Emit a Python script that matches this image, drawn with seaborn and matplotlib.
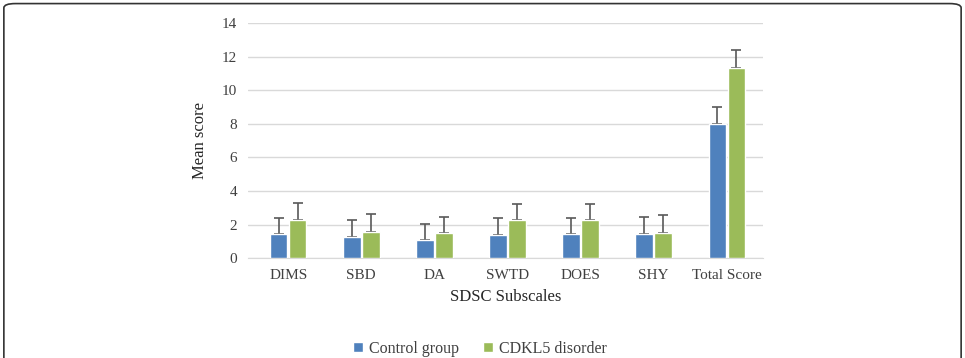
import numpy as np
import pandas as pd
import matplotlib
matplotlib.use("Agg")
import matplotlib.pyplot as plt
import seaborn as sns
from matplotlib.patches import FancyBboxPatch

# values
subscales = ["DIMS", "SBD", "DA", "SWTD", "DOES", "SHY", "Total Score"]
groups = ["Control group", "CDKL5 disorder"]
control_mean = [1.43, 1.27, 1.07, 1.35, 1.43, 1.43, 8.0]
control_sd = [0.95, 0.97, 0.99, 1.03, 0.95, 1.03, 0.97]
cdkl5_mean = [2.26, 1.57, 1.51, 2.26, 2.26, 1.51, 11.32]
cdkl5_sd = [1.03, 1.05, 0.95, 0.96, 0.96, 1.03, 1.04]

colors = ["#4F81BD", "#9BBB59"]

df = pd.DataFrame({
    "subscale": subscales * 2,
    "group": [groups[0]] * len(subscales) + [groups[1]] * len(subscales),
    "mean": control_mean + cdkl5_mean,
})

sns.set_style("white")
plt.rcParams["font.family"] = ["Liberation Serif", "DejaVu Serif"]

fig = plt.figure(figsize=(9.65, 3.58), dpi=100)
ax = fig.add_axes([0.257, 0.279, 0.534, 0.657])

sns.barplot(data=df, x="subscale", y="mean", hue="group", palette=colors,
            saturation=1, width=0.52, gap=0.08, errorbar=None, ax=ax,
            zorder=3)

# upper-only error bars
sds = [control_sd, cdkl5_sd]
means = [control_mean, cdkl5_mean]
for cont, sd, mn in zip(ax.containers, sds, means):
    xs = [p.get_x() + p.get_width() / 2 for p in cont.patches]
    ax.errorbar(xs, mn, yerr=[np.zeros(len(sd)), sd], fmt="none",
                ecolor="#595959", elinewidth=1.2, capsize=3.5, capthick=1.2,
                zorder=2.5)

ax.set_ylim(0, 14)
ax.set_yticks(range(0, 15, 2))
ax.set_xlim(-0.55, 6.5)
ax.yaxis.grid(True, color="#d9d9d9", linewidth=1)
ax.set_axisbelow(True)
for s in ["top", "right", "left"]:
    ax.spines[s].set_visible(False)
ax.spines["bottom"].set_color("#d9d9d9")
ax.tick_params(axis="both", length=0, labelsize=11, colors="#404040", pad=8)
ax.set_ylabel("Mean score", fontsize=12, color="#262626", labelpad=10)
ax.set_xlabel("SDSC Subscales", fontsize=12, color="#262626", labelpad=5)

ax.legend(loc="upper center", bbox_to_anchor=(0.45, -0.29), ncol=2,
          frameon=False, fontsize=11.5, handlelength=0.6, handleheight=0.6,
          columnspacing=1.5, handletextpad=0.4, labelcolor="#404040")

# rounded frame around the figure
frame = FancyBboxPatch((0.004, -0.05), 0.992, 1.04,
                       boxstyle="round,pad=0,rounding_size=0.012",
                       transform=fig.transFigure, fill=False,
                       edgecolor="#333333", linewidth=1.2, clip_on=False)
fig.patches.append(frame)

fig.savefig("out.png", dpi=100)
